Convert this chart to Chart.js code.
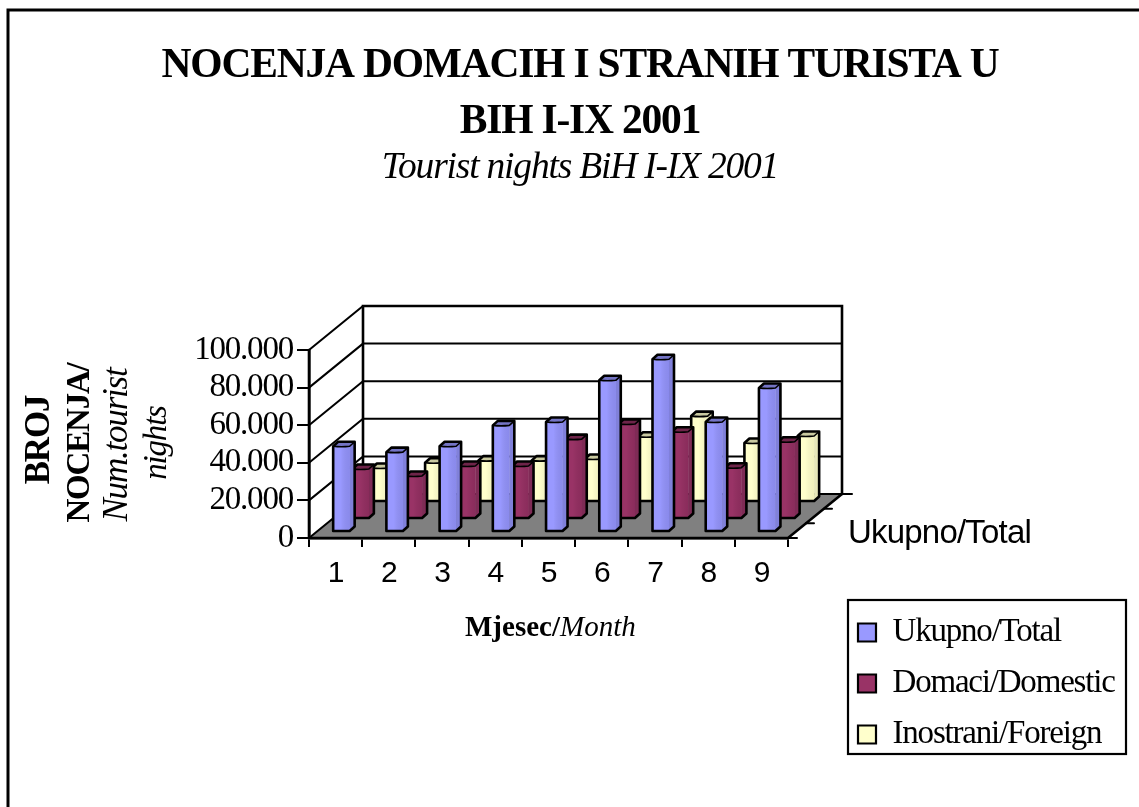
<!DOCTYPE html>
<html><head><meta charset="utf-8">
<style>html,body{margin:0;padding:0;background:#fff}canvas{display:block}</style>
<script src="https://cdn.jsdelivr.net/npm/chart.js@4"></script>
</head><body>
<canvas id="c" width="1139" height="807"></canvas>
<script>
const months = ['1','2','3','4','5','6','7','8','9'];
const ukupno = [45600,42500,45600,56700,58500,80700,91900,58500,76600];
const domaci = [26600,22900,28200,28200,42500,50500,46400,27300,41100];
const inostrani = [18100,20900,22000,22000,22900,34700,45700,31400,35100];
const seriesNames = ['Ukupno/Total','Domaci/Domestic','Inostrani/Foreign'];
const depthLabel = 'Ukupno/Total';
const titleLines = ['NOCENJA DOMACIH I STRANIH TURISTA U','BIH I-IX 2001'];
const subtitleText = 'Tourist nights BiH I-IX 2001';

const SERIF='"Liberation Serif"', SANS='"Liberation Sans"';
const SPACING='-1.2px';
const DEPTH={x:54,y:-44};
const faces=['#9999FF','#993366','#FFFFCC'];
const sides=['#8080DA','#7F2B56','#E6E6B8'];
const tops=['#7474C4','#6E2449','#C9C9A0'];
const shades=['rgba(60,60,140,.16)','rgba(50,0,30,.14)','rgba(110,110,40,.10)'];
const shift=[{x:5.8,y:-6},{x:25,y:-19},{x:44.5,y:-36}];
const BAR=16.5,SD=5,SDY=4.5;

const plugin3d={
  id:'plugin3d',
  beforeUpdate(c){c.ctx.letterSpacing=SPACING;},
  beforeDraw(c){
    const x=c.ctx;x.letterSpacing=SPACING;
    x.save();x.strokeStyle='#000';x.lineWidth=3;
    x.beginPath();x.moveTo(8,807);x.lineTo(8,10);x.lineTo(1139,10);x.stroke();
    x.restore();
  },
  afterLayout(c){
    const l=c.legend;const w=l.right-l.left,h=l.bottom-l.top;
    l.left=840;l.top=598;l.right=840+w;l.bottom=598+h;
  },
  beforeDatasetsDraw(c){
    const x=c.ctx,a=c.chartArea,ys=c.scales.y;
    const L=a.left,R=a.right,B=a.bottom,T=a.top;
    x.save();x.lineCap='round';x.strokeStyle='#000';
    x.fillStyle='#808080';
    x.beginPath();x.moveTo(L,B);x.lineTo(R,B);x.lineTo(R+DEPTH.x,B+DEPTH.y);x.lineTo(L+DEPTH.x,B+DEPTH.y);x.closePath();x.fill();
    x.lineWidth=2;
    ys.ticks.forEach(t=>{
      const y=ys.getPixelForValue(t.value);
      x.beginPath();x.moveTo(L,y);x.lineTo(L+DEPTH.x,y+DEPTH.y);
      x.lineTo(R+DEPTH.x,y+DEPTH.y);x.stroke();
    });
    x.lineWidth=2.6;
    x.beginPath();x.moveTo(L+DEPTH.x,B+DEPTH.y);x.lineTo(L+DEPTH.x,T+DEPTH.y);x.lineTo(R+DEPTH.x,T+DEPTH.y);x.lineTo(R+DEPTH.x,B+DEPTH.y);x.stroke();
    x.beginPath();x.moveTo(L,T);x.lineTo(L,B);x.lineTo(R,B);x.lineTo(R+DEPTH.x,B+DEPTH.y);x.stroke();
    x.lineWidth=2;
    [[0,9],[.333,8],[.667,8],[1,10]].forEach(([f,len])=>{
      const px=R+DEPTH.x*f,py=B+DEPTH.y*f;
      x.beginPath();x.moveTo(px,py);x.lineTo(px+len,py);x.stroke();
    });
    x.restore();
  },
  beforeDatasetDraw(c,args){
    const x=c.ctx,s=shift[args.index];
    x.save();x.translate(s.x,s.y);
  },
  afterDatasetDraw(c,args){
    const x=c.ctx,i=args.index;
    x.strokeStyle='#000';x.lineJoin='round';
    args.meta.data.forEach(el=>{
      const p=el.getProps(['x','y','base','width'],true);
      const l=p.x-p.width/2,r=p.x+p.width/2,t=p.y,b=p.base;
      const g=x.createLinearGradient(l+p.width*.45,0,r,0);
      g.addColorStop(0,'rgba(0,0,0,0)');g.addColorStop(1,shades[i]);
      x.fillStyle=g;x.fillRect(l,t,p.width,b-t);
      x.fillStyle=sides[i];
      x.beginPath();x.moveTo(r,t);x.lineTo(r+SD,t-SDY);x.lineTo(r+SD,b-SDY);x.lineTo(r,b);x.closePath();x.fill();
      x.fillStyle=tops[i];
      x.beginPath();x.moveTo(l,t);x.quadraticCurveTo((l+r)/2,t+1,r,t);x.lineTo(r+SD,t-SDY);x.lineTo(l+SD,t-SDY);x.closePath();x.fill();
      x.lineWidth=2.6;
      x.beginPath();x.moveTo(l,b);x.lineTo(l,t);x.lineTo(l+SD,t-SDY);x.lineTo(r+SD,t-SDY);x.lineTo(r+SD,b-SDY);x.lineTo(r,b);x.closePath();x.stroke();
      x.lineWidth=1.6;
      x.beginPath();x.moveTo(l,t);x.quadraticCurveTo((l+r)/2,t+1,r,t);x.lineTo(r+SD,t-SDY);x.stroke();
    });
    x.restore();
  },
  afterDraw(c){
    const x=c.ctx;
    x.save();x.fillStyle='#000';x.strokeStyle='#000';x.textBaseline='alphabetic';
    x.lineWidth=2.2;x.strokeRect(848,600,278,154);
    x.letterSpacing='-0.8px';
    x.font='33px '+SANS;x.textAlign='left';x.fillText(depthLabel,848,543);
    x.letterSpacing='0px';
    const a='Mjesec/',b='Month';
    x.font='bold 29px '+SERIF;const wa=x.measureText(a).width;
    x.fillText(a,465,636);
    x.font='italic 29px '+SERIF;x.fillText(b,465+wa,636);
    x.letterSpacing=SPACING;
    const rows=[['BROJ','bold',35,49,440],['NOCENJA/','bold',33,89,443],['Num.tourist','italic',35,127,445],['nights','italic',33,166,443]];
    rows.forEach(([t,st,sz,bx,cy])=>{
      x.save();x.translate(bx,cy);x.rotate(-Math.PI/2);x.textAlign='center';
      x.font=st+' '+sz+'px '+SERIF;x.fillText(t,0,0);x.restore();
    });
    x.restore();
  }
};

new Chart(document.getElementById('c'),{
  type:'bar',
  data:{labels:months,datasets:[
    {label:seriesNames[0],data:ukupno,backgroundColor:faces[0]},
    {label:seriesNames[1],data:domaci,backgroundColor:faces[1]},
    {label:seriesNames[2],data:inostrani,backgroundColor:faces[2]}
  ].map(d=>Object.assign(d,{borderWidth:0,barThickness:BAR,clip:false}))},
  plugins:[plugin3d],
  options:{
    responsive:false,animation:false,events:[],
    layout:{padding:{left:21,right:0,top:0,bottom:169}},
    datasets:{bar:{grouped:false}},
    scales:{
      x:{
        grid:{display:true,drawOnChartArea:false,tickLength:9,color:'#000',lineWidth:2,offset:true},
        border:{display:true,color:'#000',width:2.6},
        ticks:{color:'#000',font:{family:SANS,size:30},padding:9,maxRotation:0,autoSkip:false},
        afterFit(s){s.height=100;}
      },
      y:{
        min:0,max:100000,
        grid:{display:true,drawOnChartArea:false,tickLength:12,color:'#000',lineWidth:2},
        border:{display:true,color:'#000',width:2.6},
        ticks:{color:'#000',stepSize:20000,autoSkip:false,font:{family:SERIF,size:33},padding:4,
          callback:v=>v===0?'0':(v/1000)+'.000'},
        afterFit(s){s.width=288;}
      },
      pad:{
        position:'right',display:true,
        grid:{display:false},border:{display:false},ticks:{display:false},
        afterFit(s){s.width=351;}
      }
    },
    plugins:{
      tooltip:{enabled:false},
      title:{display:true,text:titleLines,color:'#000',
        font:{family:SERIF,size:41.5,weight:'bold',lineHeight:56/41.5},padding:{top:38,bottom:0}},
      subtitle:{display:true,text:subtitleText,color:'#000',
        font:{family:SERIF,size:37.5,style:'italic',lineHeight:36/37.5},padding:{top:0,bottom:164}},
      legend:{display:true,position:'chartArea',align:'start',
        labels:{boxWidth:18,boxHeight:18,color:'#000',padding:18,font:{family:SERIF,size:33},
          generateLabels(ch){
            return Chart.defaults.plugins.legend.labels.generateLabels(ch).map(o=>Object.assign(o,{strokeStyle:'#000',lineWidth:2.2}));
          }}}
    }
  }
});
</script>
</body></html>
